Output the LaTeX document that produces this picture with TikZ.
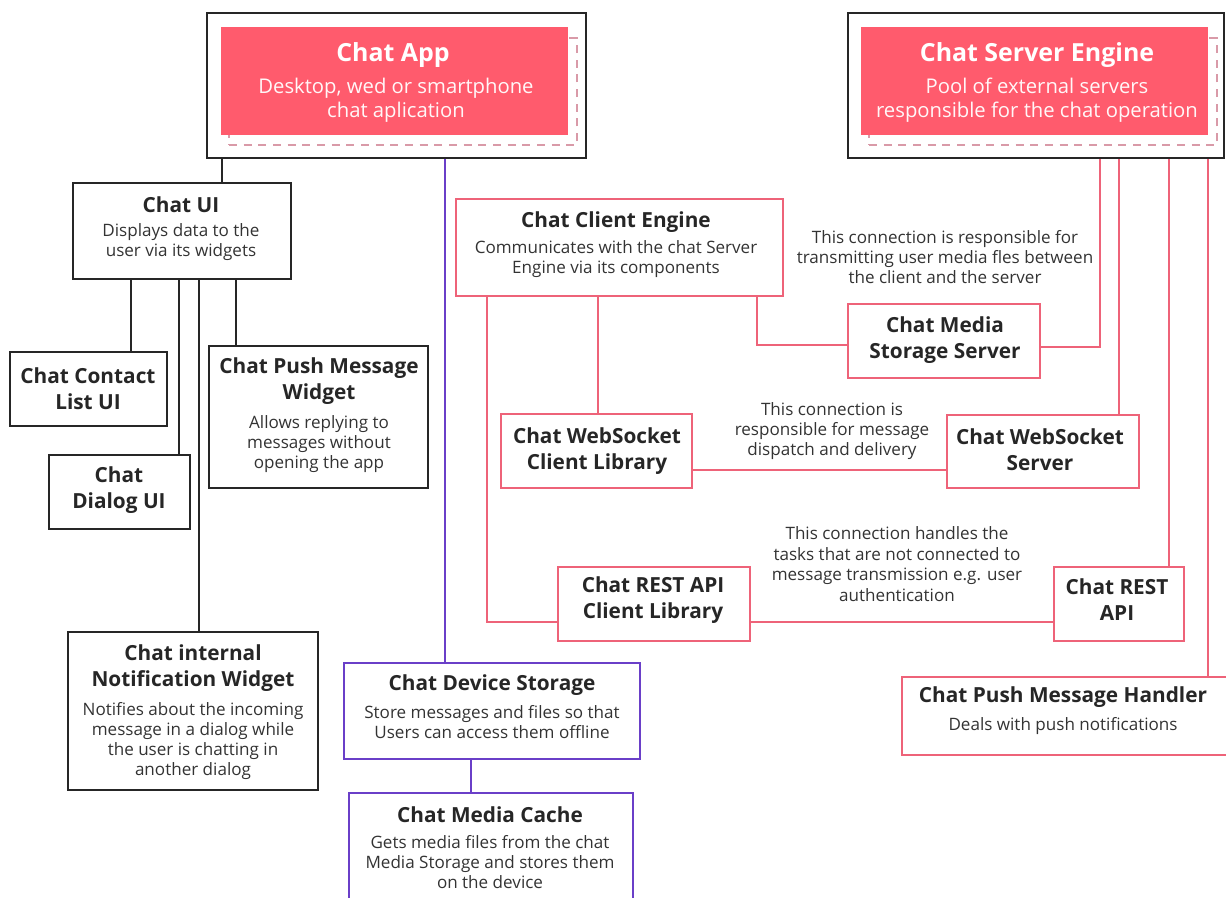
\documentclass[tikz,border=0pt]{standalone}
\usepackage{fontspec}
\setmainfont{Open Sans}
\usetikzlibrary{fit}
\definecolor{redfill}{HTML}{FF5B6D}
\definecolor{redline}{HTML}{EE6379}
\definecolor{purp}{HTML}{6A3FC8}
\definecolor{ink}{HTML}{262626}
\definecolor{ink2}{HTML}{333333}
\definecolor{dashc}{HTML}{D99AA8}
\begin{document}
\begin{tikzpicture}[x=0.75pt,y=-0.75pt,
  blkbox/.style={draw=ink, line width=1.5pt, inner sep=0pt},
  redbox/.style={draw=redline, line width=1.5pt, inner sep=0pt},
  purbox/.style={draw=purp, line width=1.5pt, inner sep=0pt},
  card/.style={fill=redfill, draw=none, inner sep=0pt},
  shadowbox/.style={draw=dashc, line width=1pt, dash pattern=on 6pt off 5pt, inner sep=0pt},
  ttl/.style={font=\fontsize{15.6}{19.5}\selectfont\bfseries, text=ink, align=center, inner sep=0pt},
  dsc/.style={font=\fontsize{12.8}{15.2}\selectfont, text=ink2, align=center, inner sep=0pt},
  bigttl/.style={font=\fontsize{18.7}{22}\selectfont\bfseries, text=white, align=center, inner sep=0pt},
  bigdsc/.style={font=\fontsize{15.2}{18}\selectfont, text=white!95!redfill, align=center, inner sep=0pt},
  lbl/.style={font=\fontsize{12.8}{15.3}\selectfont, text=ink2, align=center, inner sep=0pt},
  blkline/.style={draw=ink, line width=1.5pt},
  redcon/.style={draw=redline, line width=1.5pt},
  purcon/.style={draw=purp, line width=1.5pt}]
\useasboundingbox (0,0) rectangle (1226,897);
\clip (0,0) rectangle (1226,897);

% ---------- Chat App ----------
\node[blkbox, fit={(207,13) (586,158)}] (app) {};
\node[shadowbox, fit={(229,38) (577,145)}] (appshadow) {};
\node[card, fit={(221,27) (568,135)}] (appcard) {};
\node[bigttl] (appt) at (393,55) {Chat App};
\node[bigdsc] (appd) at (396,100) {Desktop, wed or smartphone\\chat aplication};

% ---------- Chat Server Engine ----------
\node[blkbox, fit={(848,13) (1224,158)}] (server) {};
\node[shadowbox, fit={(869,38) (1217,145)}] (servershadow) {};
\node[card, fit={(861,27) (1208,135)}] (servercard) {};
\node[bigttl] (servert) at (1037,55) {Chat Server Engine};
\node[bigdsc] (serverd) at (1037,100) {Pool of external servers\\responsible for the chat operation};

% ---------- Chat UI ----------
\node[blkbox, fit={(73,183) (291,279)}] (ui) {};
\node[ttl] (uit) at (181,205) {Chat UI};
\node[dsc] (uid) at (181,242) {Displays data to the\\user via its widgets};

\node[blkbox, fit={(10,352) (167,426)}] (contact) {};
\node[ttl] (contactt) at (88,389) {Chat Contact\\List UI};

\node[blkbox, fit={(49,455) (190,529)}] (dialog) {};
\node[ttl] (dialogt) at (119,490) {Chat\\Dialog UI};

\node[blkbox, fit={(209,346) (428,488)}] (pushw) {};
\node[ttl] (pushwt) at (319,381) {Chat Push Message\\Widget};
\node[dsc] (pushwd) at (319,444) {Allows replying to\\messages without\\opening the app};

\node[blkbox, fit={(68,632) (318,790)}] (notif) {};
\node[ttl] (notift) at (193,668) {Chat internal\\Notification Widget};
\node[dsc] (notifd) at (193,741) {Notifies about the incoming\\message in a dialog while\\the user is chatting in\\another dialog};

% ---------- Device storage ----------
\node[purbox, fit={(344,663) (640,759)}] (devstore) {};
\node[ttl] (devstoret) at (492,685) {Chat Device Storage};
\node[dsc] (devstored) at (492,722) {Store messages and files so that\\Users can access them offline};

\node[purbox, fit={(349,793) (633,907)}] (cache) {};
\node[ttl] (cachet) at (490,815) {Chat Media Cache};
\node[dsc] (cached) at (490,862) {Gets media files from the chat\\Media Storage and stores them\\on the device};

% ---------- Client engine ----------
\node[redbox, fit={(456,199) (783,296)}] (client) {};
\node[ttl] (clientt) at (616,222) {Chat Client Engine};
\node[dsc] (clientd) at (616,259) {Communicates with the chat Server\\Engine via its components};

\node[redbox, fit={(848,304) (1040,378)}] (mediastore) {};
\node[ttl] (mediastoret) at (945,340) {Chat Media\\Storage Server};

\node[redbox, fit={(501,414) (692,488)}] (wsclient) {};
\node[ttl] (wsclientt) at (597,451) {Chat WebSocket\\Client Library};

\node[redbox, fit={(947,415) (1139,488)}] (wsserver) {};
\node[ttl] (wsservert) at (1040,450) {Chat WebSocket\\Server};

\node[redbox, fit={(558,567) (750,641)}] (restclient) {};
\node[ttl] (restclientt) at (653,600) {Chat REST API\\Client Library};

\node[redbox, fit={(1054,567) (1184,641)}] (rest) {};
\node[ttl] (restt) at (1117,600) {Chat REST\\API};

\node[redbox, fit={(902,677) (1232,755)}] (pushh) {};
\node[ttl] (pushht) at (1063,697) {Chat Push Message Handler};
\node[dsc] (pushhd) at (1063,726) {Deals with push notifications};

% ---------- Labels ----------
\node[lbl] (lab1) at (945,257) {This connection is responsible for\\transmitting user media fles between\\the client and the server};
\node[lbl] (lab2) at (832,431) {This connection is\\responsible for message\\dispatch and delivery};
\node[lbl] (lab3) at (897,564) {This connection handles the\\tasks that are not connected to\\message transmission e.g. user\\authentication};

% ---------- Connectors ----------
\draw[blkline] (app.south -| 222,0) -- (ui.north -| 222,0);
\draw[blkline] (ui.south -| 131,0) -- (contact.north -| 131,0);
\draw[blkline] (ui.south -| 179,0) -- (dialog.north -| 179,0);
\draw[blkline] (ui.south -| 199,0) -- (notif.north -| 199,0);
\draw[blkline] (ui.south -| 236,0) -- (pushw.north -| 236,0);

\draw[purcon] (app.south -| 445,0) -- (devstore.north -| 445,0);
\draw[purcon] (devstore.south -| 471,0) -- (cache.north -| 471,0);

\draw[redcon] (client.south -| 598,0) -- (wsclient.north -| 598,0);
\draw[redcon] (client.south -| 487,0) |- (restclient.west |- 0,622);
\draw[redcon] (client.south -| 757,0) |- (mediastore.west |- 0,345);
\draw[redcon] (mediastore.east |- 0,347) -| (server.south -| 1100,0);
\draw[redcon] (wsclient.east |- 0,470) -- (wsserver.west |- 0,470);
\draw[redcon] (wsserver.north -| 1119,0) -- (server.south -| 1119,0);
\draw[redcon] (restclient.east |- 0,622) -- (rest.west |- 0,622);
\draw[redcon] (rest.north -| 1169,0) -- (server.south -| 1169,0);
\draw[redcon] (pushh.north -| 1208,0) -- (server.south -| 1208,0);
\end{tikzpicture}
\end{document}
